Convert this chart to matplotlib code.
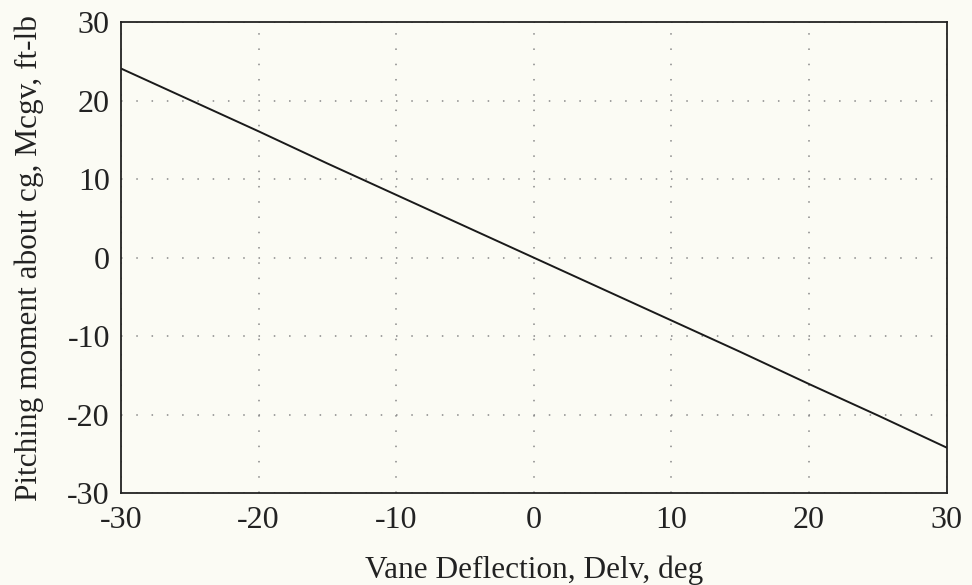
import matplotlib
matplotlib.use('Agg')
import matplotlib.pyplot as plt

# vane deflection (deg) and pitching moment about cg (ft-lb)
delv = [-30, -25, -20, -15, -10, -5, 0, 5, 10, 15, 20, 25, 30]
mcgv = [24.1, 20.1, 16.1, 12.0, 8.0, 4.0, 0.0, -4.0, -8.0, -12.0, -16.1, -20.1, -24.2]

xticks = [-30, -20, -10, 0, 10, 20, 30]
yticks = [-30, -20, -10, 0, 10, 20, 30]

plt.rcParams['font.family'] = ['Liberation Serif', 'DejaVu Serif']

fig = plt.figure(figsize=(9.72, 5.85), dpi=100, facecolor='#fbfbf4')
ax = fig.add_axes([0.1245, 0.157, 0.8495, 0.805])
ax.set_facecolor('#fbfbf4')

ax.plot(delv, mcgv, color='#1a1a1a', linewidth=1.4)

ax.set_xlim(-30, 30)
ax.set_ylim(-30, 30)
ax.set_xticks(xticks)
ax.set_yticks(yticks)
ax.set_xticklabels([str(t) for t in xticks], fontsize=23)
ax.set_yticklabels([str(t) for t in yticks], fontsize=23)
ax.tick_params(direction='in', length=0, colors='#222222')
ax.tick_params(axis='x', pad=9)
ax.tick_params(axis='y', pad=8)
ax.grid(True, linestyle=(0, (1, 9)), color='#888888', linewidth=1.1)

for s in ax.spines.values():
    s.set_color('#222222')
    s.set_linewidth(1.3)

ax.set_xlabel('Vane Deflection, Delv, deg', fontsize=22.5, labelpad=15, color='#222222')
ax.set_ylabel('Pitching moment about cg, Mcgv, ft-lb', fontsize=22.5, labelpad=17, color='#222222')

fig.savefig('out.png', dpi=100, facecolor=fig.get_facecolor())
